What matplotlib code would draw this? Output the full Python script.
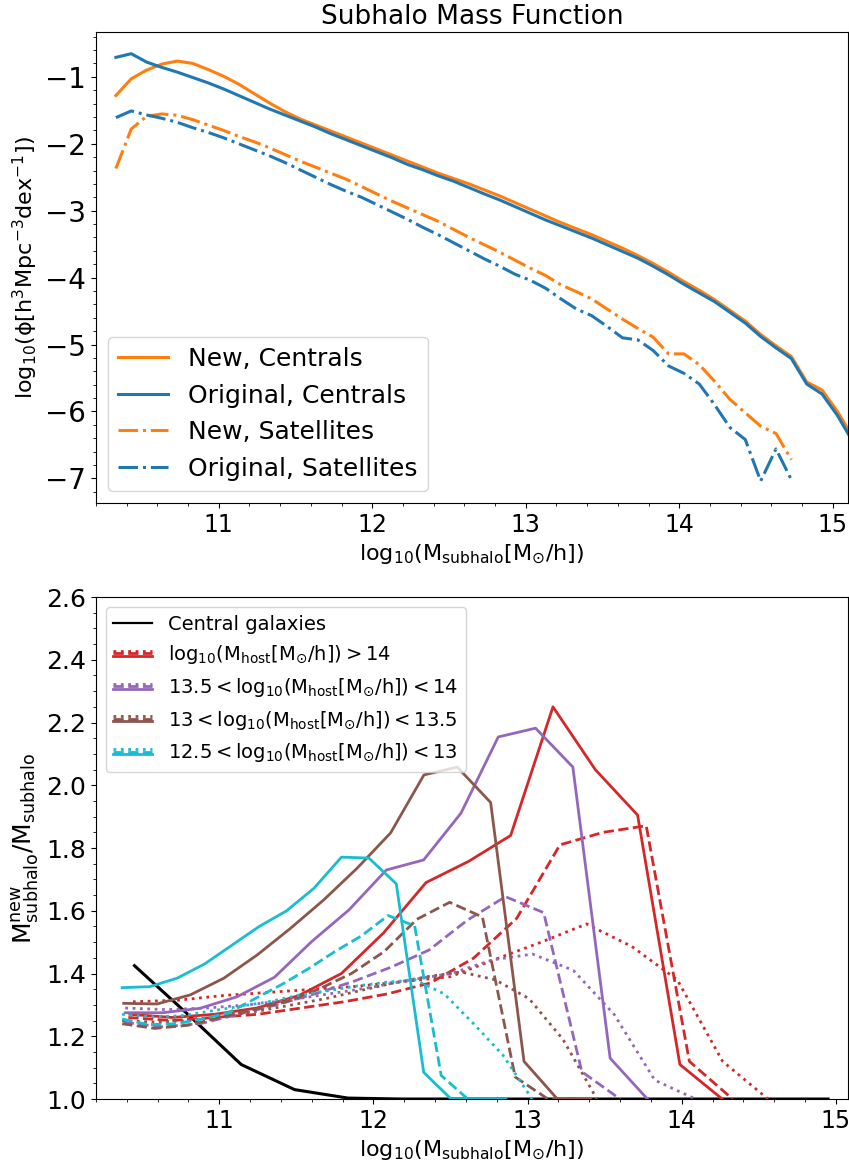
import numpy as np
import matplotlib.pyplot as plt
from matplotlib.lines import Line2D
from matplotlib.legend_handler import HandlerBase

plt.rcParams['mathtext.default'] = 'regular'

# ---- top panel: subhalo mass function, 0.1 dex bins ----
logm_bins = np.round(10.33 + 0.1 * np.arange(49), 2)

phi_new_cen = [-1.28, -1.03, -0.90, -0.81, -0.765, -0.80, -0.89, -0.99, -1.11, -1.25,
               -1.39, -1.52, -1.63, -1.72, -1.81, -1.90, -1.99, -2.08, -2.17, -2.26,
               -2.35, -2.44, -2.52, -2.60, -2.69, -2.78, -2.88, -2.98, -3.08, -3.18,
               -3.27, -3.36, -3.46, -3.56, -3.67, -3.79, -3.92, -4.06, -4.19, -4.33,
               -4.49, -4.65, -4.85, -5.02, -5.18, -5.56, -5.68, -6.00, -6.38]
phi_orig_cen = [-0.71, -0.655, -0.78, -0.86, -0.93, -1.01, -1.09, -1.18, -1.28, -1.38,
                -1.48, -1.57, -1.66, -1.75, -1.85, -1.94, -2.03, -2.12, -2.21, -2.31,
                -2.39, -2.48, -2.56, -2.655, -2.75, -2.84, -2.94, -3.04, -3.14, -3.23,
                -3.32, -3.41, -3.51, -3.61, -3.71, -3.83, -3.96, -4.10, -4.23, -4.36,
                -4.52, -4.68, -4.88, -5.05, -5.21, -5.59, -5.74, -6.06, -6.45]
phi_new_sat = [-2.37, -1.78, -1.59, -1.555, -1.575, -1.64, -1.72, -1.80, -1.89, -1.97,
               -2.06, -2.16, -2.26, -2.35, -2.44, -2.53, -2.64, -2.75, -2.86, -2.96,
               -3.06, -3.16, -3.28, -3.40, -3.51, -3.62, -3.74, -3.86, -3.97, -4.11,
               -4.21, -4.32, -4.47, -4.62, -4.76, -4.89, -5.14, -5.14, -5.30, -5.55,
               -5.82, -6.02, -6.22, -6.33, -6.72]
phi_orig_sat = [-1.61, -1.51, -1.57, -1.62, -1.68, -1.76, -1.83, -1.91, -2.00, -2.09,
                -2.18, -2.28, -2.39, -2.50, -2.61, -2.71, -2.80, -2.91, -3.02, -3.13,
                -3.25, -3.36, -3.48, -3.60, -3.72, -3.83, -3.95, -4.04, -4.16, -4.32,
                -4.47, -4.57, -4.73, -4.90, -4.93, -5.09, -5.32, -5.43, -5.59, -5.90,
                -6.24, -6.42, -7.04, -6.56, -7.02]

# ---- bottom panel: mass ratio new/original ----
m_cen = np.linspace(10.45, 14.95, 14)
ratio_cen = [1.425, 1.27, 1.11, 1.03, 1.003, 1.0, 1.0, 1.0, 1.0, 1.0, 1.0, 1.0, 1.0, 1.0]

# host mass > 14
m_red_solid = np.linspace(10.42, 14.263, 15)
red_solid = [1.27, 1.26, 1.27, 1.29, 1.33, 1.40, 1.53, 1.69, 1.757, 1.84, 2.25, 2.05, 1.905, 1.11, 1.0]
m_red_dash = np.linspace(10.41, 14.33, 15)
red_dash = [1.26, 1.25, 1.26, 1.27, 1.29, 1.31, 1.335, 1.37, 1.449, 1.576, 1.81, 1.85, 1.871, 1.12, 1.0]
m_red_dot = np.linspace(10.44, 14.56, 15)
red_dot = [1.31, 1.315, 1.33, 1.34, 1.35, 1.36, 1.375, 1.39, 1.446, 1.50, 1.558, 1.486, 1.38, 1.12, 1.0]

# 13.5 < host mass < 14
m_pur_solid = np.linspace(10.39, 13.778, 15)
pur_solid = [1.275, 1.275, 1.289, 1.326, 1.388, 1.502, 1.603, 1.73, 1.762, 1.911, 2.154, 2.182, 2.058, 1.13, 1.0]
m_pur_dash = np.linspace(10.38, 13.6, 14)
pur_dash = [1.245, 1.23, 1.24, 1.27, 1.30, 1.335, 1.374, 1.42, 1.475, 1.57, 1.645, 1.594, 1.087, 1.0]
m_pur_dot = np.linspace(10.39, 14.09, 15)
pur_dot = [1.29, 1.285, 1.29, 1.30, 1.315, 1.335, 1.355, 1.38, 1.40, 1.443, 1.462, 1.41, 1.27, 1.06, 1.0]

# 13 < host mass < 13.5
m_brn_solid = np.linspace(10.38, 13.41, 15)
brn_solid = [1.305, 1.303, 1.332, 1.385, 1.459, 1.544, 1.635, 1.736, 1.848, 2.033, 2.058, 1.945, 1.12, 1.0, 1.0]
m_brn_dash = np.linspace(10.37, 13.345, 15)
brn_dash = [1.24, 1.225, 1.235, 1.26, 1.285, 1.31, 1.35, 1.40, 1.47, 1.573, 1.627, 1.58, 1.07, 1.0, 1.0]
m_brn_dot = np.linspace(10.37, 13.45, 15)
brn_dot = [1.25, 1.245, 1.25, 1.265, 1.28, 1.30, 1.32, 1.345, 1.37, 1.39, 1.405, 1.38, 1.32, 1.19, 1.0]

# 12.5 < host mass < 13
m_cyn_solid = np.linspace(10.37, 12.86, 15)
cyn_solid = [1.355, 1.358, 1.385, 1.43, 1.49, 1.55, 1.60, 1.672, 1.771, 1.768, 1.686, 1.085, 1.0, 1.0, 1.0]
m_cyn_dash = np.linspace(10.37, 12.785, 15)
cyn_dash = [1.255, 1.237, 1.24, 1.255, 1.275, 1.32, 1.365, 1.415, 1.47, 1.52, 1.585, 1.552, 1.075, 1.0, 1.0]
m_cyn_dot = np.linspace(10.37, 13.03, 15)
cyn_dot = [1.27, 1.262, 1.265, 1.28, 1.295, 1.31, 1.33, 1.345, 1.36, 1.372, 1.38, 1.335, 1.24, 1.14, 1.0]

host_labels = [r'$log_{10}(M_{host}[M_{\odot}/h]) > 14$',
               r'$13.5 < log_{10}(M_{host}[M_{\odot}/h]) < 14$',
               r'$13 < log_{10}(M_{host}[M_{\odot}/h]) < 13.5$',
               r'$12.5 < log_{10}(M_{host}[M_{\odot}/h]) < 13$']
host_colors = ['tab:red', 'tab:purple', 'tab:brown', 'tab:cyan']
host_series = [((m_red_solid, red_solid), (m_red_dash, red_dash), (m_red_dot, red_dot)),
               ((m_pur_solid, pur_solid), (m_pur_dash, pur_dash), (m_pur_dot, pur_dot)),
               ((m_brn_solid, brn_solid), (m_brn_dash, brn_dash), (m_brn_dot, brn_dot)),
               ((m_cyn_solid, cyn_solid), (m_cyn_dash, cyn_dash), (m_cyn_dot, cyn_dot))]


class StackedHandler(HandlerBase):
    """draw the dotted/dashed/solid lines of one host bin stacked in the legend"""
    def create_artists(self, legend, orig_handle, xdescent, ydescent,
                       width, height, fontsize, trans):
        y0 = (height - ydescent) / 2.0
        out = []
        for ln, dy in zip(orig_handle, (1.8, 0.0, -1.8)):
            seg = Line2D([-xdescent, -xdescent + width], [y0 + dy, y0 + dy],
                         color=ln.get_color(), linestyle=ln.get_linestyle(),
                         linewidth=ln.get_linewidth(), transform=trans)
            out.append(seg)
        return out


fig = plt.figure(figsize=(8.49, 11.62), dpi=100)
ax1 = fig.add_axes([0.113, 0.567, 0.886, 0.4055])
ax2 = fig.add_axes([0.113, 0.0542, 0.886, 0.432])

xlab = r'$log_{10}(M_{subhalo}[M_{\odot}/h])$'

ax1.plot(logm_bins, phi_new_cen, color='tab:orange', lw=2.2, label='New, Centrals')
ax1.plot(logm_bins, phi_orig_cen, color='tab:blue', lw=2.2, label='Original, Centrals')
ax1.plot(logm_bins[:len(phi_new_sat)], phi_new_sat, color='tab:orange', ls='-.', lw=2.2,
         label='New, Satellites')
ax1.plot(logm_bins[:len(phi_orig_sat)], phi_orig_sat, color='tab:blue', ls='-.', lw=2.2,
         label='Original, Satellites')
ax1.set_xlim(10.2, 15.1)
ax1.set_ylim(-7.37, -0.33)
ax1.set_title('Subhalo Mass Function', fontsize=19)
ax1.set_xlabel(xlab, fontsize=16)
ax1.set_ylabel(r'$log_{10}(\phi[h^3Mpc^{-3}dex^{-1}])$', fontsize=16)
ax1.tick_params(axis='y', labelsize=20)
ax1.tick_params(axis='x', labelsize=17)
ax1.minorticks_on()
ax1.legend(loc='lower left', fontsize=18)

ax2.plot(m_cen, ratio_cen, color='k', lw=2.2, zorder=1)
handles = [Line2D([], [], color='k', lw=1.6)]
for col, (s, d, o) in zip(host_colors, host_series):
    l1, = ax2.plot(s[0], s[1], color=col, lw=2, ls='-')
    l2, = ax2.plot(d[0], d[1], color=col, lw=2, ls='--')
    l3, = ax2.plot(o[0], o[1], color=col, lw=2, ls=':')
    handles.append((l3, l2, l1))
ax2.set_xlim(10.2, 15.08)
ax2.set_ylim(1.0, 2.6)
ax2.set_xlabel(xlab, fontsize=16)
ax2.set_ylabel(r'$M_{subhalo}^{new}/M_{subhalo}$', fontsize=18)
ax2.tick_params(axis='y', labelsize=18)
ax2.tick_params(axis='x', labelsize=17)
ax2.minorticks_on()
ax2.legend(handles, ['Central galaxies'] + host_labels, loc='upper left', fontsize=14,
           handler_map={tuple: StackedHandler()})

fig.savefig('out.png', dpi=100)
